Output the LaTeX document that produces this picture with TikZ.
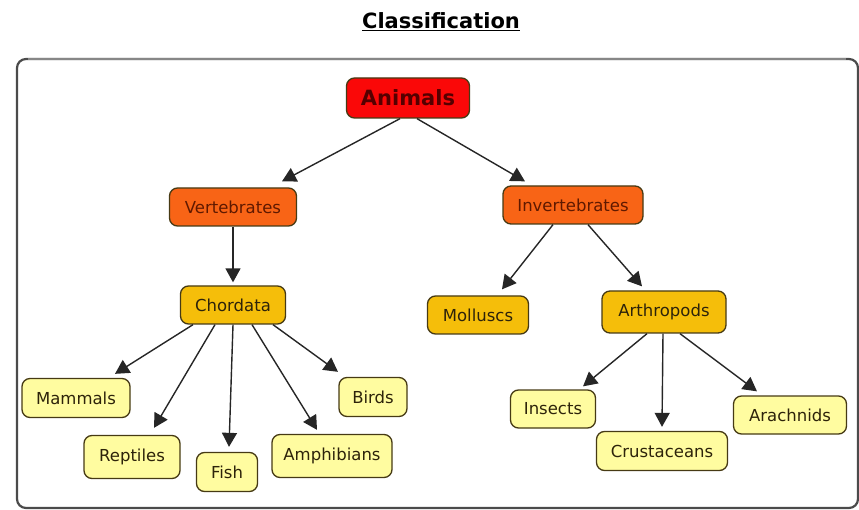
\documentclass[tikz,border=0pt]{standalone}
\usepackage{fontspec}
\setmainfont{DejaVu Sans}
\usetikzlibrary{arrows.meta}
\definecolor{redfill}{RGB}{250,8,8}
\definecolor{orangefill}{RGB}{248,100,22}
\definecolor{goldfill}{RGB}{245,190,10}
\definecolor{palefill}{RGB}{255,252,160}
\definecolor{boxline}{RGB}{70,58,20}
\definecolor{animtext}{RGB}{85,0,0}
\definecolor{verttext}{RGB}{95,25,0}
\definecolor{darktext}{RGB}{45,35,10}
\definecolor{framecol}{RGB}{75,75,75}
\definecolor{frametop}{RGB}{135,135,135}
\tikzset{
  concept/.style={draw=boxline, line width=1.3pt, rounded corners=8pt, inner sep=0pt,
    font=\fontsize{16.5}{20}\selectfont, text=darktext},
  topbox/.style={concept, fill=redfill, text=animtext, font=\bfseries\fontsize{21}{24}\selectfont},
  midbox/.style={concept, fill=orangefill, text=verttext},
  goldbox/.style={concept, fill=goldfill},
  leafbox/.style={concept, fill=palefill},
  arr/.style={draw=black!85, line width=1.4pt, -{Triangle[length=14pt,width=15pt]}}
}
\begin{document}
\begin{tikzpicture}[x=1pt,y=-1pt]
\useasboundingbox (0,0) rectangle (859,510);
% title
\node (title) at (441,22) {\fontsize{21}{24}\selectfont\bfseries\underline{Classification}};
% frame
\draw[framecol, line width=2.2pt, rounded corners=9pt] (17,59) rectangle (858,508);
\draw[frametop, line width=2.2pt] (28,59) -- (846,59);
% nodes
\node[topbox, minimum width=123, minimum height=40] (anim) at (408,98) {Animals};
\node[midbox, minimum width=127, minimum height=38] (vert) at (233,207) {Vertebrates};
\node[midbox, minimum width=140, minimum height=38] (inv) at (573,205) {Invertebrates};
\node[goldbox, minimum width=105, minimum height=38] (chord) at (233,305) {Chordata};
\node[goldbox, minimum width=101, minimum height=38] (moll) at (478,315) {Molluscs};
\node[goldbox, minimum width=124, minimum height=42] (arth) at (664,312) {Arthropods};
\node[leafbox, minimum width=108, minimum height=39] (mamm) at (76,398) {Mammals};
\node[leafbox, minimum width=68, minimum height=39] (birds) at (373,397) {Birds};
\node[leafbox, minimum width=96, minimum height=43] (rept) at (132,457) {Reptiles};
\node[leafbox, minimum width=61, minimum height=39] (fish) at (227,472) {Fish};
\node[leafbox, minimum width=120, minimum height=43] (amph) at (332,456) {Amphibians};
\node[leafbox, minimum width=85, minimum height=38] (ins) at (553,409) {Insects};
\node[leafbox, minimum width=131, minimum height=39] (crus) at (662,451) {Crustaceans};
\node[leafbox, minimum width=113, minimum height=38] (arach) at (790,415) {Arachnids};
% connectors
\draw[arr] ([xshift=-8pt]anim.south) -- ([xshift=49pt,yshift=6pt]vert.north);
\draw[arr] ([xshift=9pt]anim.south) -- ([xshift=-48pt,yshift=4pt]inv.north);
\draw[arr] (vert.south) -- ([yshift=3pt]chord.north);
\draw[arr] ([xshift=-40pt]chord.south) -- ([xshift=39pt,yshift=4pt]mamm.north);
\draw[arr] ([xshift=-18pt]chord.south) -- ([xshift=22pt,yshift=7pt]rept.north);
\draw[arr] (chord.south) -- ([xshift=2pt,yshift=5pt]fish.north);
\draw[arr] ([xshift=19pt]chord.south) -- ([xshift=-15pt,yshift=4pt]amph.north);
\draw[arr] ([xshift=40pt]chord.south) -- ([xshift=-35pt,yshift=5pt]birds.north);
\draw[arr] ([xshift=-20pt]inv.south) -- ([xshift=24pt,yshift=6pt]moll.north);
\draw[arr] ([xshift=15pt]inv.south) -- ([xshift=-22pt,yshift=4pt]arth.north);
\draw[arr] ([xshift=-17pt]arth.south) -- ([xshift=30pt,yshift=3pt]ins.north);
\draw[arr] ([xshift=-1pt]arth.south) -- ([xshift=0pt,yshift=4pt]crus.north);
\draw[arr] ([xshift=16pt]arth.south) -- ([xshift=-33pt,yshift=4pt]arach.north);
\end{tikzpicture}
\end{document}
